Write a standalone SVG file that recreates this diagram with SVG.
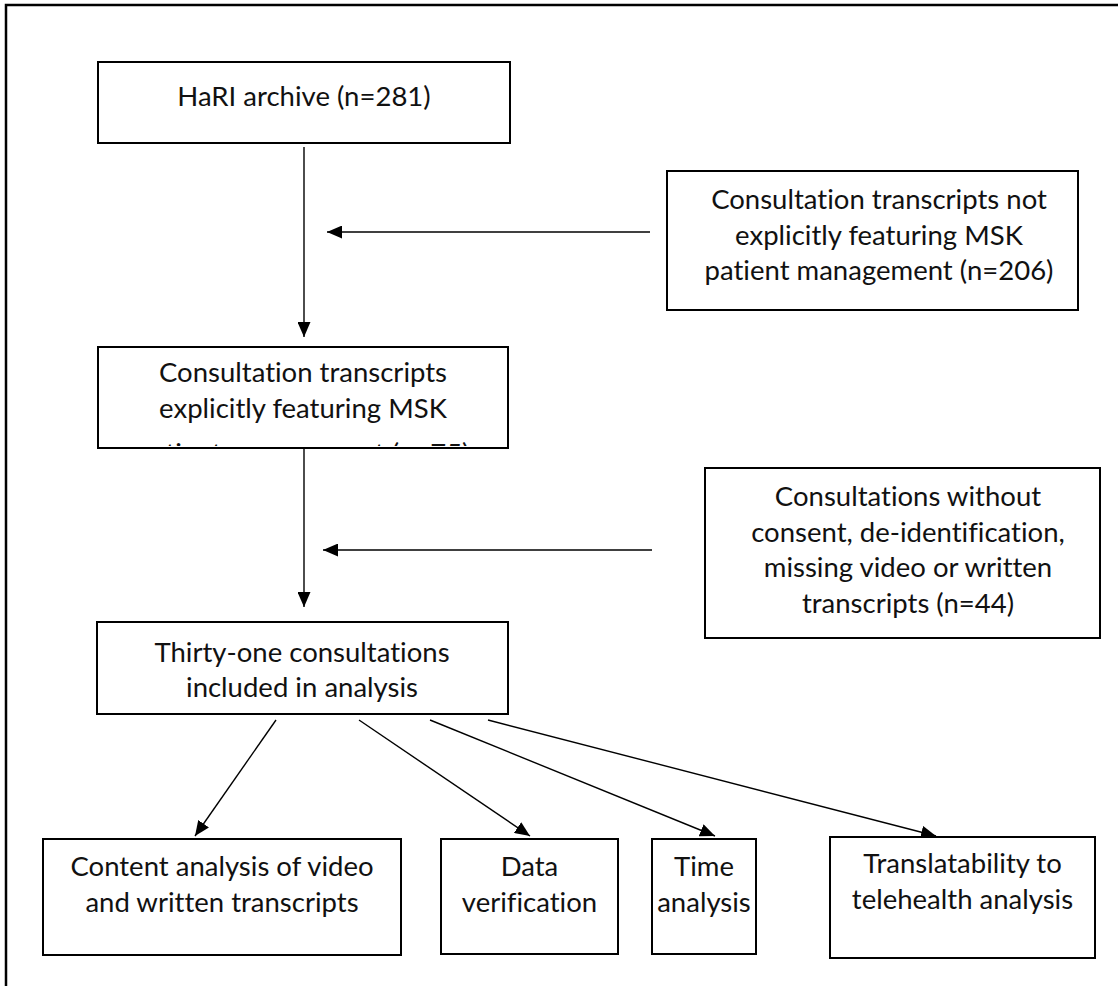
<svg xmlns="http://www.w3.org/2000/svg" width="1118" height="986" viewBox="0 0 1118 986">
<defs>
<style>
.box{fill:#fff;stroke:#000;stroke-width:2}
.t{font-family:Lato,"Liberation Sans",sans-serif;font-size:27.5px;fill:#111;text-anchor:middle;letter-spacing:0.01px;font-variant-ligatures:none;font-feature-settings:"liga" 0,"clig" 0,"dlig" 0}
.c{stroke:#000;stroke-width:1.4;fill:none}
.frame{stroke:#000;stroke-width:2.5;fill:none}
</style>
<marker id="ah" viewBox="0 0 15 13" refX="15" refY="6.5" markerWidth="15" markerHeight="13" markerUnits="userSpaceOnUse" orient="auto">
<path d="M0,0 L15,6.5 L0,13 Z" fill="#000"/>
</marker>
<clipPath id="clip2"><rect x="98" y="347" width="410" height="99"/></clipPath>
</defs>
<rect width="1118" height="986" fill="#fff"/>
<path class="frame" d="M6,986 L6,5 L1118,5"/>

<g id="connectors">
<line class="c" x1="304" y1="147" x2="304" y2="337" marker-end="url(#ah)"/>
<line class="c" x1="650" y1="232" x2="327" y2="232" marker-end="url(#ah)"/>
<line class="c" x1="304" y1="449" x2="304" y2="607" marker-end="url(#ah)"/>
<line class="c" x1="652" y1="550" x2="323" y2="550" marker-end="url(#ah)"/>
<line class="c" x1="276" y1="720" x2="195" y2="836" marker-end="url(#ah)"/>
<line class="c" x1="359" y1="720" x2="530" y2="836" marker-end="url(#ah)"/>
<line class="c" x1="430" y1="720" x2="715" y2="836" marker-end="url(#ah)"/>
<line class="c" x1="488" y1="720" x2="936" y2="836" marker-end="url(#ah)"/>
</g>

<g id="hari">
<rect class="box" x="98" y="62" width="412" height="81"/>
<text class="t" x="304" y="106">HaRI archive (n=281)</text>
</g>

<g id="excluded1">
<rect class="box" x="667" y="171" width="411" height="139"/>
<text class="t" x="879" y="209">Consultation transcripts not</text>
<text class="t" x="879" y="244.5">explicitly featuring MSK</text>
<text class="t" x="879" y="280">patient management (n=206)</text>
</g>

<g id="msk">
<rect class="box" x="98" y="347" width="410" height="101"/>
<text class="t" x="303" y="382">Consultation transcripts</text>
<text class="t" x="303" y="417.5">explicitly featuring MSK</text>
<text class="t" x="303" y="463" clip-path="url(#clip2)">patient management (n=75)</text>
</g>

<g id="excluded2">
<rect class="box" x="705" y="468" width="395" height="170"/>
<text class="t" x="908" y="506">Consultations without</text>
<text class="t" x="908" y="541.5">consent, de-identification,</text>
<text class="t" x="908" y="577">missing video or written</text>
<text class="t" x="908" y="612.5">transcripts (n=44)</text>
</g>

<g id="included">
<rect class="box" x="97" y="622" width="411" height="92"/>
<text class="t" x="302" y="662">Thirty-one consultations</text>
<text class="t" x="302" y="697">included in analysis</text>
</g>

<g id="content">
<rect class="box" x="43" y="839" width="358" height="116"/>
<text class="t" x="222" y="876">Content analysis of video</text>
<text class="t" x="222" y="911.5">and written transcripts</text>
</g>

<g id="verification">
<rect class="box" x="441" y="839" width="177" height="115"/>
<text class="t" x="529.5" y="876">Data</text>
<text class="t" x="529.5" y="911.5">verification</text>
</g>

<g id="time">
<rect class="box" x="652" y="839" width="104" height="115"/>
<text class="t" x="704" y="876">Time</text>
<text class="t" x="704" y="911.5">analysis</text>
</g>

<g id="telehealth">
<rect class="box" x="830" y="837" width="265" height="121"/>
<text class="t" x="962.5" y="873">Translatability to</text>
<text class="t" x="962.5" y="908.5">telehealth analysis</text>
</g>
</svg>
